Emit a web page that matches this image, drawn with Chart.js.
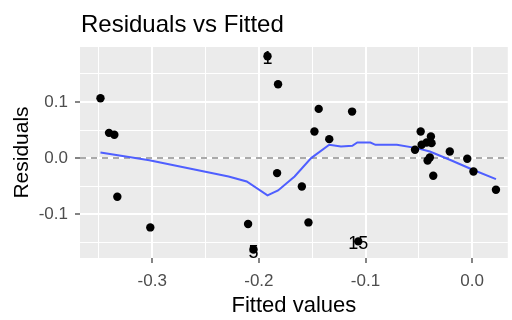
<!DOCTYPE html>
<html>
<head>
<meta charset="utf-8">
<script src="https://cdn.jsdelivr.net/npm/chart.js@4.4.1/dist/chart.umd.min.js"></script>
<style>
  html, body { margin: 0; padding: 0; background: #fff; }
  #wrap { width: 512px; height: 320px; }
</style>
</head>
<body>
<div id="wrap"><canvas id="chart" width="512" height="320"></canvas></div>
<script>
const fitted = [
  -0.3485, -0.3405, -0.3355, -0.3327, -0.3018, -0.2101, -0.2050, -0.1919,
  -0.1820, -0.1829, -0.1597, -0.1535, -0.1479, -0.1439, -0.1340, -0.1126,
  -0.1068, -0.0536, -0.0483, -0.0474, -0.0427, -0.0387, -0.0381, -0.0397,
  -0.0418, -0.0365, -0.0210, -0.0046, 0.0012, 0.0223
];
const residuals = [
  0.1068, 0.0450, 0.0415, -0.0689, -0.1235, -0.1175, -0.1630, 0.1815,
  0.1317, -0.0267, -0.0505, -0.1146, 0.0473, 0.0877, 0.0338, 0.0829,
  -0.1484, 0.0148, 0.0473, 0.0237, 0.0278, 0.0384, 0.0267, 0.0011,
  -0.0043, -0.0315, 0.0117, -0.0012, -0.0238, -0.0564
];

// smoother (blue line)
const smoothX = [
  -0.3485, -0.3027, -0.2284, -0.2114, -0.1919, -0.1820, -0.1665, -0.1510,
  -0.1340, -0.1230, -0.1124, -0.1077, -0.0954, -0.0907, -0.0706, -0.0520,
  -0.0397, -0.0210, 0.0006, 0.0223
];
const smoothY = [
  0.0100, -0.0040, -0.0327, -0.0416, -0.0665, -0.0577, -0.0327, 0.0000,
  0.0237, 0.0207, 0.0219, 0.0278, 0.0278, 0.0237, 0.0237, 0.0178,
  0.0117, -0.0030, -0.0208, -0.0374
];

// labelled observations (index into the arrays above) and their names
const labelIdx = [7, 6, 16];
const labelText = ['1', '5', '15'];

// axes
const xMin = -0.3677, xMax = 0.0334;
const yMin = -0.178, yMax = 0.198;
const xMajor = [-0.3, -0.2, -0.1, 0.0];
const xMinor = [-0.35, -0.25, -0.15, -0.05];
const xTickLabels = ['-0.3', '-0.2', '-0.1', '0.0'];
const yMajor = [-0.1, 0.0, 0.1];
const yMinor = [-0.15, -0.05, 0.05, 0.15];
const yTickLabels = ['-0.1', '0.0', '0.1'];

const FONT = '"Liberation Sans", Arial, sans-serif';

function setTicks(major, minor) {
  return function (scale) {
    const t = major.map(v => ({ value: v, major: true }))
      .concat(minor.map(v => ({ value: v, minor: true })));
    t.sort((a, b) => a.value - b.value);
    scale.ticks = t;
  };
}
function tickLabel(major, labels) {
  return function (value) {
    const i = major.findIndex(m => Math.abs(m - value) < 1e-9);
    return i >= 0 ? labels[i] : '';
  };
}
function gridOpts() {
  return {
    color: '#FFFFFF',
    lineWidth: c => (c.tick && c.tick.minor ? 1 : 2),
    tickColor: c => (c.tick && c.tick.minor ? 'rgba(0,0,0,0)' : '#333333'),
    tickWidth: 1.2,
    tickLength: 5
  };
}

const panelBg = {
  id: 'panelBg',
  beforeDraw(chart) {
    const { ctx, chartArea: a } = chart;
    ctx.save();
    ctx.fillStyle = '#FFFFFF';
    ctx.fillRect(0, 0, chart.width, chart.height);
    ctx.fillStyle = '#EBEBEB';
    ctx.fillRect(a.left, a.top, a.right - a.left, a.bottom - a.top);
    ctx.restore();
  }
};

const pointLabels = {
  id: 'pointLabels',
  afterDatasetsDraw(chart) {
    const { ctx, scales } = chart;
    ctx.save();
    ctx.font = '18px ' + FONT;
    ctx.fillStyle = '#000000';
    ctx.textAlign = 'center';
    ctx.textBaseline = 'middle';
    labelIdx.forEach((i, k) => {
      const x = scales.x.getPixelForValue(fitted[i]);
      const y = scales.y.getPixelForValue(residuals[i]);
      ctx.fillText(labelText[k], x, y + 3);
    });
    ctx.restore();
  }
};

const plotTitle = {
  id: 'plotTitle',
  afterDraw(chart) {
    const ctx = chart.ctx;
    ctx.save();
    ctx.font = '24px ' + FONT;
    ctx.fillStyle = '#000000';
    ctx.textAlign = 'left';
    ctx.textBaseline = 'alphabetic';
    ctx.fillText('Residuals vs Fitted', 81, 32);
    ctx.restore();
  }
};

new Chart(document.getElementById('chart').getContext('2d'), {
  type: 'scatter',
  data: {
    datasets: [
      {
        label: 'obs',
        data: fitted.map((x, i) => ({ x: x, y: residuals[i] })),
        backgroundColor: '#000000',
        borderWidth: 0,
        pointRadius: 4.2
      },
      {
        label: 'smooth',
        data: smoothX.map((x, i) => ({ x: x, y: smoothY[i] })),
        showLine: true,
        borderColor: '#4F5FFF',
        borderWidth: 2,
        pointRadius: 0,
        tension: 0
      },
      {
        label: 'zero',
        data: [{ x: xMin, y: 0 }, { x: xMax, y: 0 }],
        showLine: true,
        borderColor: '#AAAAAA',
        borderWidth: 2,
        borderDash: [6, 5],
        pointRadius: 0
      }
    ]
  },
  options: {
    responsive: false,
    animation: false,
    layout: { padding: { top: 47, left: 0, right: 0, bottom: 0 } },
    plugins: { legend: { display: false }, tooltip: { enabled: false } },
    scales: {
      x: {
        type: 'linear',
        min: xMin,
        max: xMax,
        afterBuildTicks: setTicks(xMajor, xMinor),
        afterFit: s => { s.height = 62; },
        grid: gridOpts(),
        border: { display: false },
        ticks: {
          autoSkip: false,
          maxRotation: 0,
          padding: 8,
          color: '#4D4D4D',
          font: { family: FONT, size: 17 },
          callback: tickLabel(xMajor, xTickLabels)
        },
        title: {
          display: true,
          text: 'Fitted values',
          color: '#000000',
          font: { family: FONT, size: 22 },
          padding: { top: 0, bottom: 1 }
        }
      },
      y: {
        type: 'linear',
        min: yMin,
        max: yMax,
        afterBuildTicks: setTicks(yMajor, yMinor),
        afterFit: s => { s.width = 80; },
        grid: gridOpts(),
        border: { display: false },
        ticks: {
          autoSkip: false,
          padding: 7,
          color: '#4D4D4D',
          font: { family: FONT, size: 17 },
          callback: tickLabel(yMajor, yTickLabels)
        },
        title: {
          display: true,
          text: 'Residuals',
          color: '#000000',
          font: { family: FONT, size: 21 },
          padding: { top: 10, bottom: 0 }
        }
      }
    }
  },
  plugins: [panelBg, pointLabels, plotTitle]
});
</script>
</body>
</html>
